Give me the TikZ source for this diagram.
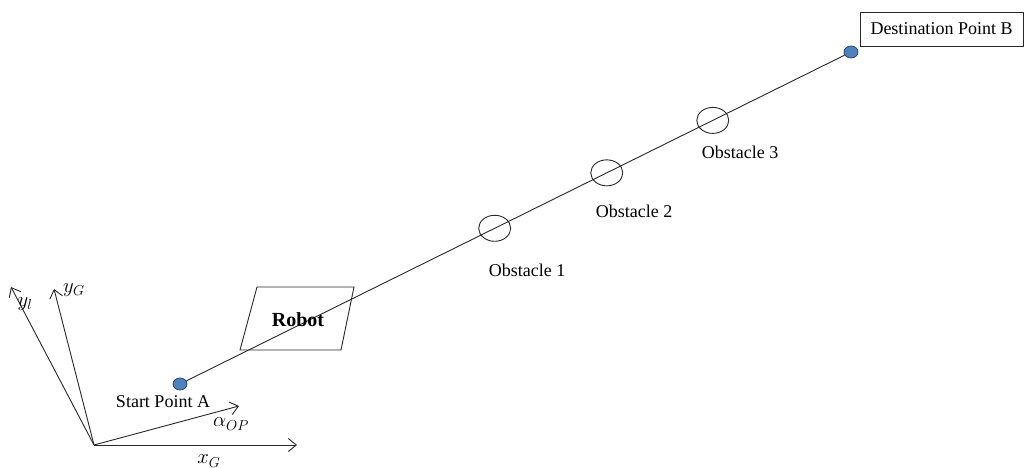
\documentclass[tikz,border=0pt]{standalone}
\usepackage{fontspec}
\setmainfont{Liberation Serif}
\usetikzlibrary{arrows.meta,calc,shapes.geometric}
\definecolor{dotblue}{RGB}{79,129,189}
\definecolor{dotedge}{RGB}{40,70,110}
\definecolor{linegray}{RGB}{40,40,40}
\begin{document}
\begin{tikzpicture}[x=1pt,y=-1pt,
  dot/.style={ellipse, draw=dotedge, line width=0.8pt, fill=dotblue, minimum width=14pt, minimum height=12pt, inner sep=0pt},
  obst/.style={ellipse, draw=linegray, line width=0.9pt, minimum width=32pt, minimum height=26pt, inner sep=0pt},
  lbl/.style={font=\fontsize{18}{20}\selectfont, inner sep=0pt},
  mlbl/.style={font=\fontsize{20}{22}\selectfont, inner sep=0pt},
  axis/.style={-{Straight Barb[length=8pt,width=13pt]}, line width=0.9pt, draw=linegray},
  path/.style={line width=0.9pt, draw=linegray}]
\useasboundingbox (0,0) rectangle (1025,468);
% path
\node[dot] (A) at (180,384) {};
\node[dot] (B) at (851,52) {};
\draw[path] (A) -- (B);
% obstacles
\node[obst] (o1) at ($(A)!0.469!(B)$) {};
\node[obst] (o2) at ($(A)!0.636!(B)$) {};
\node[obst] (o3) at ($(A)!0.794!(B)$) {};
\node[lbl] (l1) at (527,270) {Obstacle 1};
\node[lbl] (l2) at (634,211) {Obstacle 2};
\node[lbl] (l3) at (740,152) {Obstacle 3};
% destination
\node[draw=linegray, line width=0.8pt, lbl, minimum width=163pt, minimum height=34pt] (dest) at (941.5,29) {Destination Point B};
% robot
\draw[path] (257,287) -- (354,287) -- (341,350) -- (240,350) -- cycle;
\node[font=\bfseries\fontsize{20}{22}\selectfont, inner sep=0pt] (robot) at (298,320) {Robot};
\node[lbl] (start) at (163,402) {Start Point A};
% axes
\coordinate (O) at (94,445);
\coordinate (xg) at (297,445);
\coordinate (yg) at (54,289);
\coordinate (yl) at (11,287);
\coordinate (ap) at (239,406);
\draw[axis] (O) -- (xg);
\draw[axis] (O) -- (yg);
\draw[axis] (O) -- (yl);
\draw[axis] (O) -- (ap);
\node[mlbl] (lxg) at (209,461) {$x_G$};
\node[mlbl] (lyg) at (74,290) {$y_G$};
\node[mlbl] (lyl) at (25,304) {$y_l$};
\node[mlbl] (lap) at (231,424) {$\alpha_{OP}$};
\end{tikzpicture}
\end{document}
